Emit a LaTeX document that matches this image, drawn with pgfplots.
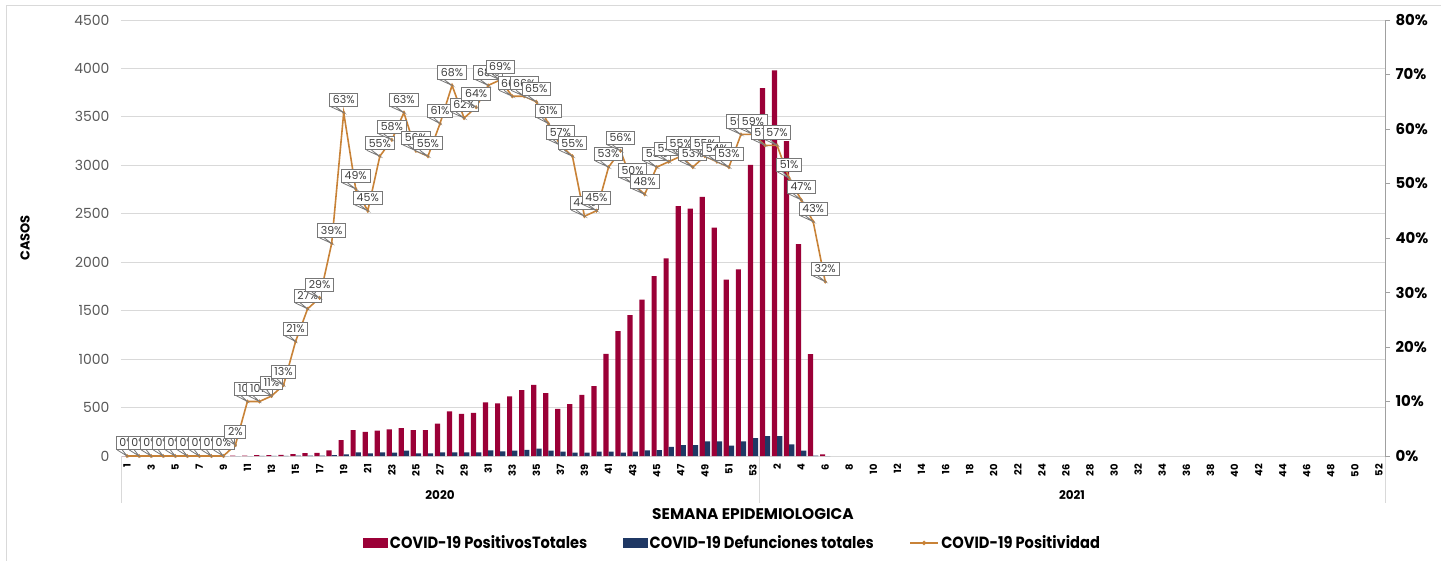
\documentclass[border=0pt]{standalone}
\usepackage{fontspec}
\setmainfont{Poppins}
\newfontfamily\legfont[FakeStretch=0.9]{Poppins}
\usepackage{pgfplots}
\pgfplotsset{compat=1.18}
\usepackage{pgfplotstable}

\definecolor{posred}{RGB}{155,0,55}
\definecolor{defnavy}{RGB}{31,56,100}
\definecolor{lineor}{RGB}{200,130,55}
\definecolor{gridg}{RGB}{217,217,217}
\definecolor{ticktxt}{RGB}{89,89,89}
\definecolor{axisgray}{RGB}{160,160,160}
\definecolor{callg}{RGB}{120,120,120}
\definecolor{darktxt}{RGB}{64,64,64}

\newcommand{\fs}[1]{\fontsize{#1}{#1}\selectfont}

\tikzset{mycallout/.style={font=\fs{11}, text=darktxt, draw=callg, fill=white, line width=0.8bp,
  inner xsep=3.2bp, inner ysep=2.6bp, text height=7.8bp, text depth=0.2bp, anchor=south, yshift=6bp,
  append after command={\pgfextra{\filldraw[fill=white, draw=callg, line width=0.8bp]
     ([xshift=1.5bp]\tikzlastnode.south west) -- ([yshift=-6bp]\tikzlastnode.south) -- ([xshift=6.5bp]\tikzlastnode.south west);}}}}

\pgfplotstableread{
x pos def p
1 0 0 0
2 0 0 0
3 0 0 0
4 0 0 0
5 0 0 0
6 0 0 0
7 0 0 0
8 0 0 0
9 0 0 0
10 3 0 2
11 5 0 10
12 10 1 10
13 10 1 11
14 12 2 13
15 20 3 21
16 30 4 27
17 32 5 29
18 58 8 39
19 165 17 63
20 268 38 49
21 250 27 45
22 262 38 55
23 275 34 58
24 288 55 63
25 268 27 56
26 268 27 55
27 333 38 61
28 460 38 68
29 436 38 62
30 446 38 64
31 553 58 68
32 543 48 69
33 615 55 66
34 680 62 66
35 734 75 65
36 649 55 61
37 487 45 57
38 535 34 55
39 631 34 44
40 721 45 45
41 1054 45 53
42 1290 34 56
43 1455 45 50
44 1614 58 48
45 1857 60 53
46 2039 95 54
47 2578 113 55
48 2554 113 53
49 2674 151 55
50 2358 151 54
51 1820 106 53
52 1926 151 59
53 3004 185 59
54 3797 206 57
55 3979 206 57
56 3250 120 51
57 2187 55 47
58 1051 5 43
59 17 0 32
}\data

\begin{document}
\begin{tikzpicture}
\begin{axis}[name=ax1, scale only axis, width=1264bp, height=436bp,
  xmin=0.5, xmax=105.5, ymin=0, ymax=4500,
  ytick={0,500,...,4500}, ymajorgrids, grid style={gridg, line width=0.8bp},
  axis x line*=bottom, axis y line*=left,
  y axis line style={draw=none}, x axis line style={gridg, line width=0.8bp},
  tick style={draw=none}, major tick length=0pt,
  xtick={1,3,...,105},
  xticklabels={1,3,5,7,9,11,13,15,17,19,21,23,25,27,29,31,33,35,37,39,41,43,45,47,49,51,53,2,4,6,8,10,12,14,16,18,20,22,24,26,28,30,32,34,36,38,40,42,44,46,48,50,52},
  xticklabel style={rotate=90, anchor=east, font=\fs{10}\bfseries, inner sep=0pt},
  xticklabel shift=8bp,
  yticklabel style={font=\fs{14}, text=ticktxt, /pgf/number format/1000 sep={}},
  yticklabel shift=8bp,
  /pgf/number format/assume math mode=true,
  ybar=0pt, bar width=5.2bp,
  ylabel={CASOS}, ylabel style={at={(axis description cs:0,0.5)}, yshift=96bp, anchor=center, font=\fs{13}\bfseries},
  xlabel={SEMANA EPIDEMIOLOGICA}, xlabel style={at={(axis description cs:0.5,0)}, yshift=-58bp, anchor=center, font=\fs{15.5}\bfseries},
  clip=false,
]
\addplot[fill=posred, draw=none] table[x=x, y=pos]{\data};
\addplot[fill=defnavy, draw=none] table[x=x, y=def]{\data};
\draw[gridg, line width=0.8bp] (axis cs:0.5,0) -- ([yshift=-47bp]axis cs:0.5,0);
\draw[gridg, line width=0.8bp] (axis cs:53.5,0) -- ([yshift=-47bp]axis cs:53.5,0);
\draw[gridg, line width=0.8bp] (axis cs:105.5,0) -- ([yshift=-47bp]axis cs:105.5,0);
\node[font=\fs{12}\bfseries] at ([yshift=-39.5bp]axis cs:27,0) {2020};
\node[font=\fs{12}\bfseries] at ([yshift=-39.5bp]axis cs:79.5,0) {2021};
\end{axis}

\begin{axis}[scale only axis, width=1264bp, height=436bp,
  xmin=0.5, xmax=105.5, ymin=0, ymax=80,
  axis x line=none, axis y line*=right,
  y axis line style={axisgray, line width=0.9bp},
  ytick={0,10,...,80}, yticklabel={\pgfmathprintnumber{\tick}\%},
  ytick style={axisgray, line width=0.8bp}, tick align=outside, major tick length=5bp,
  yticklabel style={font=\fs{15}\bfseries, text=black},
  yticklabel shift=2bp,
  /pgf/number format/assume math mode=true,
  clip=false,
  legend columns=3,
  legend style={at={(axis description cs:0.484,-0.1995)}, anchor=center, draw=none, fill=none,
    font=\legfont\bfseries\fs{16.3}, inner sep=0pt, nodes={inner xsep=2.5bp, inner ysep=1bp},
    /tikz/every even column/.append style={column sep=33bp}},
  legend cell align=left,
]
\addlegendimage{legend image code/.code={\fill[posred] (0bp,-4.5bp) rectangle (24bp,4.5bp);}}
\addlegendentry{COVID-19 PositivosTotales}
\addlegendimage{legend image code/.code={\fill[defnavy] (0bp,-4.5bp) rectangle (24bp,4.5bp);}}
\addlegendentry{COVID-19 Defunciones totales}
\addlegendimage{legend image code/.code={\draw[lineor, line width=1.6bp] (0bp,0bp) -- (28bp,0bp);
   \fill[lineor] (11.8bp,0bp) -- (14bp,2.2bp) -- (16.2bp,0bp) -- (14bp,-2.2bp) -- cycle;}}
\addlegendentry{COVID-19 Positividad}
\addplot[lineor, line width=1.6bp, mark=diamond*, mark size=1.8bp,
  mark options={solid, fill=lineor, draw=lineor, line width=0.4bp},
  point meta=y, nodes near coords={\pgfmathprintnumber{\pgfplotspointmeta}\%},
  every node near coord/.style={mycallout}, forget plot] table[x=x, y=p]{\data};
\end{axis}

\draw[gridg, line width=1bp] ([shift={(-114bp,14bp)}]ax1.north west) rectangle ([shift={(80bp,-130bp)}]ax1.south east);
\pgfresetboundingbox
\path[use as bounding box] ([shift={(-121bp,-104bp)}]ax1.south west) rectangle ([shift={(56bp,20bp)}]ax1.north east);
\end{tikzpicture}
\end{document}
